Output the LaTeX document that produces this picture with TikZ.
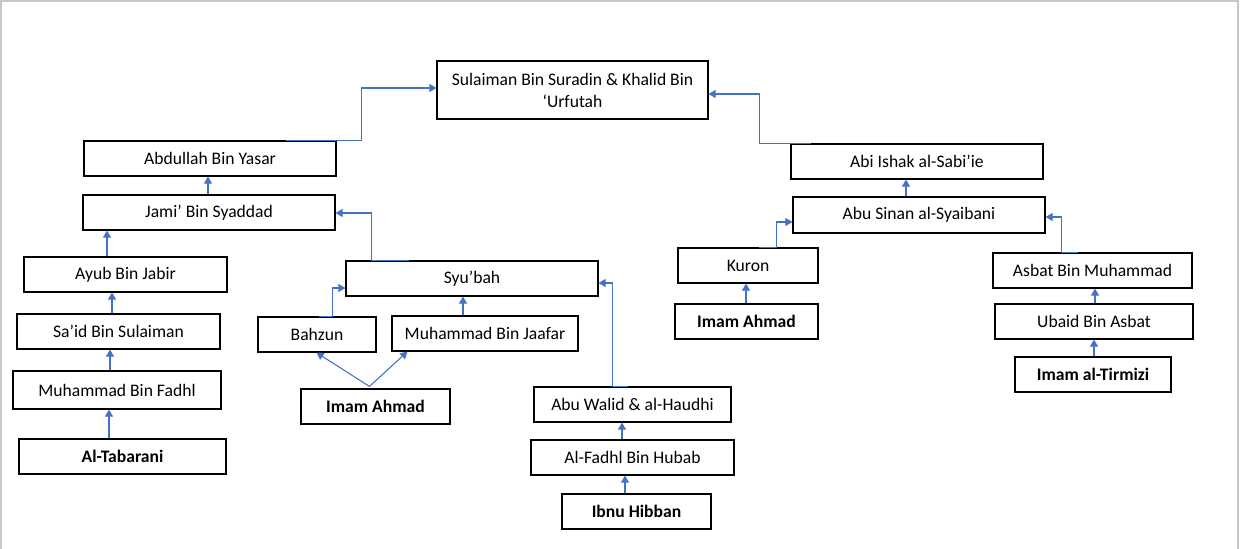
\documentclass[tikz,border=0pt]{standalone}
\usepackage{fontspec}
\setmainfont{Carlito}
\usetikzlibrary{arrows.meta,calc}
\definecolor{arrowblue}{HTML}{4472C4}
\definecolor{framegray}{HTML}{C8C8C8}
\newcommand{\hbx}[7][]{%
  \node[box,#1,minimum width={(#5-#3)*0.75pt},minimum height={(#6-#4)*0.75pt}] (#2) at ({(#3+#5)/2},{(#4+#6)/2}) {#7};}
\begin{document}
\begin{tikzpicture}[x=0.75pt,y=-0.75pt,
  box/.style={draw=black,line width=0.85pt,inner sep=0pt,align=center,font=\fontsize{13.2}{16.5}\selectfont},
  bold/.style={font=\fontsize{13.2}{16.5}\selectfont\bfseries},
  conn/.style={draw=arrowblue,line width=0.8pt,-{Triangle[length=5.3pt,width=6pt]}},
  frame/.style={draw=framegray,line width=1.2pt}]
\useasboundingbox (0,0) rectangle (1241,549);
\fill[white] (0,0) rectangle (1241,549);
\draw[frame] (1,549) -- (1,1) -- (1238,1) -- (1238,549);

% boxes
\hbx{sul}{437}{61}{708}{119}{Sulaiman Bin Suradin \& Khalid Bin\\‘Urfutah}
\hbx{abd}{84}{141}{336}{176}{Abdullah Bin Yasar}
\hbx{jam}{83}{195}{335}{230}{Jami’ Bin Syaddad}
\hbx{ayu}{24}{257}{227}{292}{Ayub Bin Jabir}
\hbx{sai}{17}{314}{220}{349}{Sa’id Bin Sulaiman}
\hbx{mfa}{13}{371}{221}{409}{Muhammad Bin Fadhl}
\hbx[bold]{tab}{19}{439}{226}{474}{Al-Tabarani}
\hbx{syu}{346}{261}{598}{296}{Syu’bah}
\hbx{bah}{258}{317}{376}{352}{Bahzun}
\hbx{mja}{392}{316}{578}{351}{Muhammad Bin Jaafar}
\hbx[bold]{iaL}{301}{389}{450}{424}{Imam Ahmad}
\hbx{awa}{534}{387}{731}{422}{Abu Walid \& al-Haudhi}
\hbx{fhu}{531}{440}{734}{475}{Al-Fadhl Bin Hubab}
\hbx[bold]{ibn}{562}{494}{711}{529}{Ibnu Hibban}
\hbx{abi}{791}{144}{1043}{179}{Abi Ishak al-Sabi’ie}
\hbx{asi}{793}{197}{1045}{233}{Abu Sinan al-Syaibani}
\hbx{kur}{678}{248}{818}{283}{Kuron}
\hbx[bold]{iaR}{675}{304}{818}{339}{Imam Ahmad}
\hbx{asb}{993}{253}{1192}{288}{Asbat Bin Muhammad}
\hbx{uba}{995}{304}{1193}{339}{Ubaid Bin Asbat}
\hbx[bold]{tir}{1015}{357}{1171}{392}{Imam al-Tirmizi}

% connectors
\draw[conn] ($(abd.north west)+(203,0)$) -- ++(75,0) |- ($(sul.west)+(0,-2)$);
\draw[conn] ($(abi.north west)+(21,0)$) -- ++(-52,0) |- ($(sul.east)+(0,4)$);
\draw[conn] (jam.north -| 208,0) -- (abd.south -| 208,0);
\draw[conn] (ayu.north -| 107,0) -- (jam.south -| 107,0);
\draw[conn] (sai.north -| 112,0) -- (ayu.south -| 112,0);
\draw[conn] (mfa.north -| 110,0) -- (sai.south -| 110,0);
\draw[conn] (tab.north -| 109,0) -- (mfa.south -| 109,0);
\draw[conn] ($(syu.north west)+(64,0)$) -- ++(-38,0) |- ($(jam.east)+(0,0.5)$);
\draw[conn] ($(bah.north west)+(62,0)$) -- ++(13,0) |- ($(syu.west)+(0,9.5)$);
\draw[conn] (mja.north -| 463,0) -- (syu.south -| 463,0);
\draw[conn] ($(iaL.north west)+(69,-2)$) -- ($(bah.south west)+(59,0)$);
\draw[conn] ($(iaL.north west)+(69,-2)$) -- ($(mja.south west)+(16,0)$);
\draw[conn] ($(awa.north west)+(95,0)$) -- ++(-16,0) |- ($(syu.east)+(0,4.5)$);
\draw[conn] (fhu.north -| 622,0) -- (awa.south -| 622,0);
\draw[conn] (ibn.north -| 625,0) -- (fhu.south -| 625,0);
\draw[conn] (asi.north -| 906,0) -- (abi.south -| 906,0);
\draw[conn] ($(kur.north west)+(82,0)$) -- ++(17,0) |- ($(asi.west)+(0,7)$);
\draw[conn] (iaR.north -| 746,0) -- (kur.south -| 746,0);
\draw[conn] ($(asb.north west)+(86,0)$) -- ++(-17,0) |- ($(asi.east)+(0,2)$);
\draw[conn] (uba.north -| 1095,0) -- (asb.south -| 1095,0);
\draw[conn] (tir.north -| 1094,0) -- (uba.south -| 1094,0);
\end{tikzpicture}
\end{document}
